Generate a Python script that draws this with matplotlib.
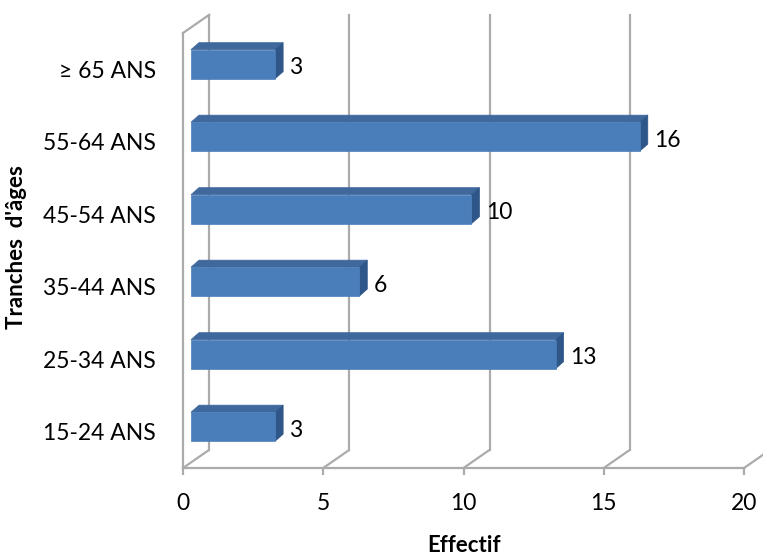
import matplotlib.pyplot as plt
from matplotlib.patches import Polygon

categories = ["15-24 ANS", "25-34 ANS", "35-44 ANS", "45-54 ANS", "55-64 ANS", "\u2265 65 ANS"]
effectifs = [3, 13, 6, 10, 16, 3]
x_ticks = [0, 5, 10, 15, 20]

plt.rcParams['font.family'] = ['Lato', 'DejaVu Sans']

GRID = '#ababab'
FRONT = '#4a7ebb'
TOP = '#3f699d'
SIDE = '#2f5689'

# depth of the floor/back wall, in data units
wall_dx, wall_dy = 0.93, 0.25
# where the bars sit in depth and how deep they are
bar_dx, bar_dy = 0.285, 0.07
depth_dx, depth_dy = 0.285, 0.097
bar_h = 0.40

fig = plt.figure(figsize=(7.63, 5.56), dpi=100)
ax = fig.add_axes([183 / 763, 88 / 556, 561 / 763, 435 / 556])
ax.set_xlim(0, 20)
ax.set_ylim(-0.5, 5.5)

y_lo, y_hi = -0.5, 5.5

# back wall gridlines and floor diagonals
for x in x_ticks:
    ax.plot([x, x + wall_dx], [y_lo, y_lo + wall_dy], color=GRID, lw=1.6,
            clip_on=False, zorder=1, solid_capstyle='butt')
    ax.plot([x + wall_dx, x + wall_dx], [y_lo + wall_dy, y_hi + wall_dy],
            color=GRID, lw=1.6, clip_on=False, zorder=1)
# top edge of the side wall
ax.plot([0, wall_dx], [y_hi, y_hi + wall_dy], color=GRID, lw=1.6,
        clip_on=False, zorder=1)

# 3D bars: top face, side face, then front face
for i, v in enumerate(effectifs):
    x0 = bar_dx
    x1 = bar_dx + v
    yb = i + bar_dy - bar_h / 2
    yt = i + bar_dy + bar_h / 2
    top = Polygon([(x0, yt), (x1, yt), (x1 + depth_dx, yt + depth_dy),
                   (x0 + depth_dx, yt + depth_dy)], closed=True,
                  facecolor=TOP, edgecolor=TOP, lw=0.5, zorder=3, clip_on=False)
    side = Polygon([(x1, yb), (x1 + depth_dx, yb + depth_dy),
                    (x1 + depth_dx, yt + depth_dy), (x1, yt)], closed=True,
                   facecolor=SIDE, edgecolor=SIDE, lw=0.5, zorder=3, clip_on=False)
    ax.add_patch(top)
    ax.add_patch(side)
    ax.barh(i + bar_dy, v, left=x0, height=bar_h, color=FRONT,
            edgecolor=FRONT, lw=0.5, zorder=4)
    ax.text(x1 + depth_dx + 0.22, i + bar_dy - 0.05, str(v), va='center',
            ha='left', fontsize=16.5, color='black', zorder=5)

for side_name in ['top', 'right']:
    ax.spines[side_name].set_visible(False)
for side_name in ['left', 'bottom']:
    ax.spines[side_name].set_color(GRID)
    ax.spines[side_name].set_linewidth(1.6)

ax.set_xticks(x_ticks)
ax.set_xticklabels([str(t) for t in x_ticks], fontsize=16.5)
ax.set_yticks(range(len(categories)))
ax.set_yticklabels(categories, fontsize=16.5)
ax.tick_params(axis='x', length=5, width=1.6, color=GRID, pad=13)
ax.tick_params(axis='y', length=0, pad=19.5)

fig.text(464 / 763, 1 - 545 / 556, "Effectif", ha='center', va='center',
         fontsize=16, fontweight='bold')
fig.text(17 / 763, 1 - 247 / 556, "Tranches  d'\u00e2ges", ha='center',
         va='center', rotation=90, fontsize=16, fontweight='bold')

fig.savefig('out.png', dpi=100)
